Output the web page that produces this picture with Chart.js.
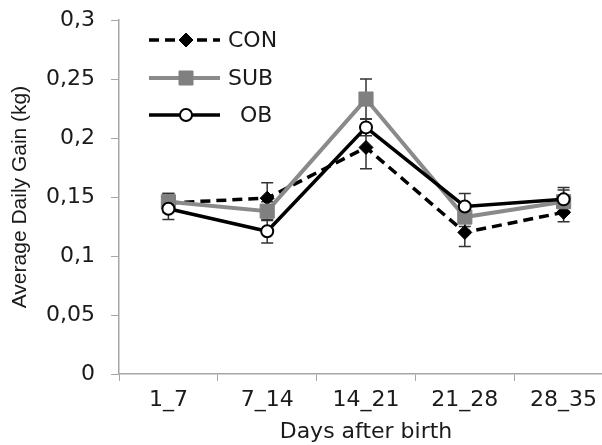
<!DOCTYPE html>
<html>
<head>
<meta charset="utf-8">
<script src="https://cdn.jsdelivr.net/npm/chart.js@4.4.1/dist/chart.umd.min.js"></script>
<style>
  html, body { margin: 0; padding: 0; background: #fff; overflow: hidden; }
  #wrap { position: relative; width: 624px; height: 445px; }
</style>
</head>
<body>
<div id="wrap"><canvas id="adg"></canvas></div>
<script>
// valeurs
const days = ['1_7', '7_14', '14_21', '21_28', '28_35'];
const conGain = [0.145, 0.149, 0.192, 0.120, 0.137];
const subGain = [0.146, 0.138, 0.233, 0.133, 0.146];
const obGain  = [0.140, 0.121, 0.209, 0.142, 0.148];
const conErr = [0.008, 0.013, 0.018, 0.012, 0.008];
const subErr = [0.007, 0.008, 0.017, 0.008, 0.010];
const obErr  = [0.009, 0.010, 0.007, 0.011, 0.010];
const seriesNames = ['CON', 'SUB', 'OB'];
const yTickLabels = ['0', '0,05', '0,1', '0,15', '0,2', '0,25', '0,3'];

const seriesErrors = [conErr, subErr, obErr];
const TXT = '#1a1a1a';
const AXIS = '#a6a6a6';
const GREY = '#8a8a8a';

// barres d'erreur, dessinées sous les marqueurs
const errorBars = {
    id: 'errorBars',
    beforeDatasetsDraw(chart) {
        const { ctx, scales: { x, y } } = chart;
        ctx.save();
        ctx.strokeStyle = '#333';
        ctx.lineWidth = 1.5;
        chart.data.datasets.forEach((ds, i) => {
            const errs = seriesErrors[i];
            ds.data.forEach((v, j) => {
                const px = x.getPixelForValue(j);
                const top = y.getPixelForValue(v + errs[j]);
                const bot = y.getPixelForValue(v - errs[j]);
                ctx.beginPath();
                ctx.moveTo(px, top); ctx.lineTo(px, bot);
                ctx.moveTo(px - 6, top); ctx.lineTo(px + 6, top);
                ctx.moveTo(px - 6, bot); ctx.lineTo(px + 6, bot);
                ctx.stroke();
            });
        });
        ctx.restore();
    }
};

// légende façon Excel : trait + marqueur + texte
const lineLegend = {
    id: 'lineLegend',
    afterDraw(chart) {
        const ctx = chart.ctx;
        const rows = [40, 78, 115];
        ctx.save();
        chart.data.datasets.forEach((ds, i) => {
            const y = rows[i];
            ctx.beginPath();
            ctx.setLineDash(ds.borderDash || []);
            ctx.strokeStyle = ds.borderColor;
            ctx.lineWidth = ds.borderWidth;
            ctx.moveTo(149, y); ctx.lineTo(220, y);
            ctx.stroke();
            ctx.setLineDash([]);
            const mx = 186;
            ctx.fillStyle = ds.pointBackgroundColor;
            ctx.strokeStyle = ds.pointBorderColor;
            ctx.lineWidth = ds.pointBorderWidth;
            ctx.beginPath();
            if (ds.pointStyle === 'rectRot') {
                ctx.moveTo(mx, y - 7); ctx.lineTo(mx + 7, y); ctx.lineTo(mx, y + 7); ctx.lineTo(mx - 7, y);
                ctx.closePath();
            } else if (ds.pointStyle === 'rect') {
                ctx.rect(mx - 7, y - 7, 14, 14);
            } else {
                ctx.arc(mx, y, 6, 0, Math.PI * 2);
            }
            ctx.fill();
            ctx.stroke();
            ctx.fillStyle = TXT;
            ctx.font = "22px 'DejaVu Sans'";
            ctx.textBaseline = 'middle';
            ctx.fillText(ds.label, ds.label === 'OB' ? 240 : 228, y + 1);
        });
        ctx.restore();
    }
};

new Chart(document.getElementById('adg'), {
    type: 'line',
    data: {
        labels: days,
        datasets: [
            {
                label: seriesNames[0],
                data: conGain,
                order: 2,
                borderColor: '#000',
                borderWidth: 3.5,
                borderDash: [10, 6],
                pointStyle: 'rectRot',
                pointRadius: 7,
                pointBackgroundColor: '#000',
                pointBorderColor: '#000',
                pointBorderWidth: 1,
                tension: 0
            },
            {
                label: seriesNames[1],
                data: subGain,
                order: 1,
                borderColor: GREY,
                borderWidth: 4,
                pointStyle: 'rect',
                pointRadius: 10,
                pointBackgroundColor: '#808080',
                pointBorderColor: '#808080',
                pointBorderWidth: 1,
                tension: 0
            },
            {
                label: seriesNames[2],
                data: obGain,
                order: 0,
                borderColor: '#000',
                borderWidth: 3.5,
                pointStyle: 'circle',
                pointRadius: 6,
                pointBackgroundColor: '#fff',
                pointBorderColor: '#000',
                pointBorderWidth: 2,
                tension: 0
            }
        ]
    },
    options: {
        responsive: true,
        maintainAspectRatio: false,
        animation: false,
        layout: { padding: { top: 20, right: 1, left: 0, bottom: 0 } },
        plugins: {
            legend: { display: false },
            tooltip: { enabled: false }
        },
        scales: {
            x: {
                offset: true,
                afterFit: s => { s.height = 71; },
                grid: { drawOnChartArea: false, drawTicks: true, tickLength: 7, color: AXIS, offset: true },
                border: { color: AXIS, width: 1.5 },
                ticks: { color: TXT, font: { family: 'DejaVu Sans', size: 22 }, padding: 6, maxRotation: 0 },
                title: {
                    display: true,
                    text: 'Days after birth',
                    color: TXT,
                    font: { family: 'DejaVu Sans', size: 22 },
                    padding: { top: 0, bottom: 0 }
                }
            },
            y: {
                min: 0,
                max: 0.3,
                afterFit: s => { s.width = 119; s.paddingTop = 0; },
                grid: { drawOnChartArea: false, drawTicks: true, tickLength: 8, color: AXIS },
                border: { color: AXIS, width: 1.5 },
                ticks: {
                    stepSize: 0.05,
                    color: TXT,
                    padding: 16,
                    font: { family: 'DejaVu Sans', size: 22 },
                    callback: (v, i) => yTickLabels[i]
                },
                title: {
                    display: true,
                    text: 'Average Daily Gain (kg)',
                    color: TXT,
                    font: { family: 'Liberation Sans', size: 21 },
                    padding: { top: 8, bottom: 0 }
                }
            }
        }
    },
    plugins: [errorBars, lineLegend]
});
</script>
</body>
</html>
